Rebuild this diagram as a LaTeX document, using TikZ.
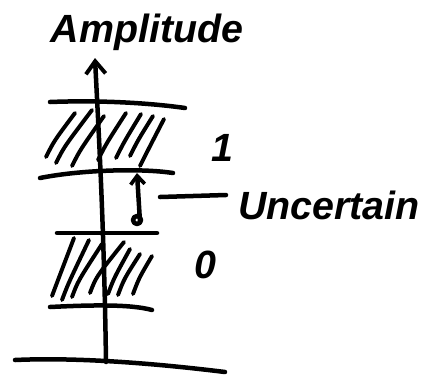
\documentclass[tikz,border=0pt]{standalone}
\usepackage{fontspec}
\setmainfont{Liberation Sans}
\usetikzlibrary{arrows.meta}
\tikzset{
  pen/.style={line width=3.2pt, line cap=round, line join=round},
  hatch/.style={line width=2.8pt, line cap=round},
  hand/.style={font=\fontsize{28}{32}\selectfont\bfseries\itshape, inner sep=0pt}
}
\begin{document}
\begin{tikzpicture}[x=0.025cm, y=-0.025cm]
    \useasboundingbox (0,0) rectangle (427,377);

    % Achse
    \coordinate (axbot) at (106,362);
    \coordinate (axtop) at (95,58);
    \draw[pen, -{Straight Barb[length=9pt, width=14pt, line width=2.8pt]}]
          (axbot) .. controls (104,220) and (98,120) .. (axtop);
    \node[hand] (amp) at (147,32) {Amplitude};

    % Pegel-Linien
    \draw[pen] (50,102) .. controls (100,100) and (150,103) .. (185,108);   % oben 1
    \draw[pen] (40,178) .. controls (80,170) and (140,168) .. (173,173);    % unten 1
    \draw[pen] (57,233) -- (157,233);                                       % oben 0
    \draw[pen] (50,307) .. controls (90,305) and (130,304) .. (152,310);    % unten 0
    \draw[pen] (15,360) .. controls (80,357) and (160,364) .. (225,372);    % Basis

    % Schraffur Band 1
    \foreach \xa/\ya/\xb/\yb in {46/157/75/113, 56/163/92/110, 72/166/104/116,
                                 98/160/126/113, 116/158/141/114, 130/156/153/116,
                                 140/166/164/119} {
        \draw[hatch] (\xa,\ya) .. controls (\xa+8,\ya-16) .. (\xb,\yb);
    }

    % Schraffur Band 0
    \foreach \xa/\ya/\xb/\yb in {52/296/74/238, 62/300/89/240, 72/297/102/244,
                                 90/293/124/242, 108/294/130/249, 118/295/140/254,
                                 133/294/152/256} {
        \draw[hatch] (\xa,\ya) .. controls (\xa+6,\ya-16) .. (\xb,\yb);
    }

    % Unsicherer Bereich
    \coordinate (ubot) at (140,222);
    \coordinate (utop) at (137,173);
    \draw[pen, -{Straight Barb[length=6pt, width=10pt, line width=2.6pt]}] (ubot) -- (utop);
    \draw[pen] (137,220) circle (4);
    \coordinate (ulead) at (160,197);
    \coordinate (uend) at (226,195);
    \draw[pen] (ulead) -- (uend);
    \node[hand, anchor=east] (unc) at (420,205) {Uncertain};

    % Logikpegel
    \node[hand] (one) at (222,148) {1};
    \node[hand] (zero) at (205,265) {0};
  \end{tikzpicture}
\end{document}
